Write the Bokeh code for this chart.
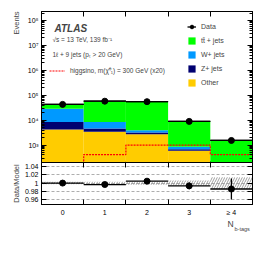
import numpy as np
from bokeh.plotting import figure
from bokeh.models import (ColumnDataSource, Range1d, FixedTicker, LinearAxis, LogAxis,
                          Legend, LegendItem, Label, Title, CustomJSTickFormatter)
from bokeh.layouts import column
from bokeh.embed import file_html
from bokeh.resources import INLINE

# ---------------- data ----------------
bins = [0, 1, 2, 3, 4]
bin_labels = ["0", "1", "2", "3", "≥ 4"]
other = [4200, 3400, 2700, 585, 120]
zjets = [4300, 1200, 500, 95, 15]
wjets = [20500, 3900, 700, 170, 40]
ttbar = [14000, 49500, 51100, 8150, 1380]
data = [43000, 57800, 55250, 8940, 1533]
signal = [100, 417, 1000, 1000, 417]
ratio_err = [0.002, 0.002, 0.002, 0.008, 0.025]
mc_unc = [0.003, 0.003, 0.004, 0.006, 0.014]

FONT = "Liberation Sans"
GREEN, BLUE, NAVY, ORANGE = "#00ff00", "#0099ff", "#000070", "#ffcc00"

x = np.array(bins, dtype=float)
left = x - 0.5
right = x + 0.5
comps = [("Other", other, ORANGE), ("Z+ jets", zjets, NAVY),
         ("W+ jets", wjets, BLUE), ("tt̄ + jets", ttbar, GREEN)]
total = np.sum([np.array(c[1], dtype=float) for c in comps], axis=0)
ratio = np.array(data) / total

# ---------------- main panel ----------------
p1 = figure(frame_width=211, frame_height=151, x_range=Range1d(-0.5, 4.5),
            y_range=Range1d(200, 2.3e8), y_axis_type="log",
            output_backend="svg", toolbar_location=None,
            min_border_left=41, min_border_right=5, min_border_top=11, min_border_bottom=0)
p1.grid.visible = False
p1.outline_line_color = "black"
p1.xaxis.visible = False

renderers = {}
bottom = np.ones(len(bins))
for name, vals, col in comps:
    top = bottom + np.array(vals, dtype=float)
    r = p1.quad(left=left, right=right, bottom=bottom, top=top, fill_color=col,
                line_alpha=0)
    renderers[name] = r
    bottom = top

p1.segment(x0=left, x1=right, y0=total, y1=total, line_color="black", line_width=1.3)

sig_x = np.append(left, right[-1])
sig_y = np.append(signal, signal[-1])
sig_r = p1.step(x=sig_x, y=sig_y, mode="after", line_color="red", line_dash="2 1",
                line_width=1.2)

dseg = p1.segment(x0=left, x1=right, y0=data, y1=data, line_color="black", line_width=1.3)
dcirc = p1.scatter(x=x, y=data, size=6, color="black")

# axes styling
log_ticks = [10.0 ** n for n in range(2, 9)]
log_minor = [k * 10.0 ** n for n in range(2, 9) for k in range(2, 10)]
log_fmt = CustomJSTickFormatter(code="""
const e = Math.round(Math.log10(tick));
const sup = {'0':'⁰','1':'¹','2':'²','3':'³','4':'⁴','5':'⁵','6':'⁶','7':'⁷','8':'⁸','9':'⁹','-':'⁻'};
return '10' + String(e).split('').map(c => sup[c]).join('');
""")

def style_axis(ax, labels=True, major=5, minor=3):
    ax.major_tick_in = major
    ax.major_tick_out = 0
    ax.minor_tick_in = minor
    ax.minor_tick_out = 0
    ax.axis_line_color = "black"
    ax.major_tick_line_color = "black"
    ax.minor_tick_line_color = "black"
    ax.major_label_text_font = FONT
    ax.major_label_text_color = "black"
    if labels:
        ax.major_label_text_font_size = "7px"
        ax.major_label_standoff = 3
    else:
        ax.major_label_text_font_size = "1px"
        ax.major_label_text_alpha = 0
        ax.major_label_standoff = 0

p1.yaxis.ticker = FixedTicker(ticks=log_ticks, minor_ticks=log_minor)
p1.yaxis.formatter = log_fmt
style_axis(p1.yaxis[0])

r_ax = LogAxis(ticker=FixedTicker(ticks=log_ticks, minor_ticks=log_minor))
style_axis(r_ax, labels=False)
p1.add_layout(r_ax, "right")

edges = list(np.append(left, right[-1]))
t_ax = LinearAxis(ticker=FixedTicker(ticks=bins, minor_ticks=edges))
style_axis(t_ax, labels=False, major=0, minor=5)
p1.add_layout(t_ax, "above")

legend = Legend(items=[
    LegendItem(label="Data", renderers=[dseg, dcirc]),
    LegendItem(label="tt̄ + jets", renderers=[renderers["tt̄ + jets"]]),
    LegendItem(label="W+ jets", renderers=[renderers["W+ jets"]]),
    LegendItem(label="Z+ jets", renderers=[renderers["Z+ jets"]]),
    LegendItem(label="Other", renderers=[renderers["Other"]]),
], location=(146, 75), glyph_width=9, glyph_height=9, label_height=9, spacing=5,
    padding=0, margin=0, label_standoff=5, border_line_alpha=0, background_fill_alpha=0,
    label_text_font=FONT, label_text_font_size="7px")
p1.add_layout(legend)

sig_leg = Legend(items=[LegendItem(label="higgsino, m(χ̃⁰₁) = 300 GeV (x20)", renderers=[sig_r])],
                 location=(8, 87), glyph_width=16, glyph_height=9, label_height=9,
                 padding=0, margin=0, label_standoff=5, border_line_alpha=0,
                 background_fill_alpha=0, label_text_font=FONT, label_text_font_size="6.5px")
p1.add_layout(sig_leg)

p1.add_layout(Label(x=13, y=134, x_units="screen", y_units="screen", text="ATLAS",
                    text_font=FONT, text_font_style="bold italic",
                    text_font_size="10px", text_baseline="alphabetic"))
p1.add_layout(Label(x=11, y=123, x_units="screen", y_units="screen",
                    text="√s = 13 TeV, 139 fb⁻¹", text_font=FONT,
                    text_font_size="6.5px", text_baseline="middle"))
p1.add_layout(Label(x=11, y=108, x_units="screen", y_units="screen",
                    text="1ℓ + 9 jets (pₜ > 20 GeV)", text_font=FONT,
                    text_font_size="6.5px", text_baseline="middle"))
p1.add_layout(Title(text="Events", align="right", text_font=FONT, text_font_size="7.5px",
                    text_font_style="normal", standoff=8, offset=0), "left")

# ---------------- ratio panel ----------------
p2 = figure(frame_width=211, frame_height=42, x_range=p1.x_range,
            y_range=Range1d(0.949, 1.049), output_backend="svg", toolbar_location=None,
            min_border_left=41, min_border_right=5, min_border_top=0, min_border_bottom=34)
p2.outline_line_color = "black"
p2.xgrid.visible = False
r_ticks = [0.96, 0.98, 1.0, 1.02, 1.04]
p2.yaxis.ticker = FixedTicker(ticks=r_ticks)
p2.yaxis.formatter = CustomJSTickFormatter(code="return Math.abs(tick-1)<1e-9 ? '1' : tick.toFixed(2);")
style_axis(p2.yaxis[0])
p2.ygrid.ticker = FixedTicker(ticks=r_ticks)
p2.ygrid.grid_line_color = "#999999"
p2.ygrid.grid_line_dash = "3 2"
p2.ygrid.grid_line_width = 0.8

p2.xaxis.ticker = FixedTicker(ticks=bins, minor_ticks=edges)
p2.xaxis.major_label_overrides = {b: l for b, l in zip(bins, bin_labels)}
style_axis(p2.xaxis[0], major=0, minor=5)
p2.xaxis.major_label_standoff = 4

r2 = LinearAxis(ticker=FixedTicker(ticks=r_ticks))
style_axis(r2, labels=False)
p2.add_layout(r2, "right")
t2 = LinearAxis(ticker=FixedTicker(ticks=bins, minor_ticks=edges))
style_axis(t2, labels=False, major=0, minor=5)
p2.add_layout(t2, "above")

unc = np.array(mc_unc)
p2.quad(left=left, right=right, bottom=1 - unc, top=1 + unc, fill_alpha=0, line_alpha=0,
        hatch_pattern="/", hatch_color="#888888", hatch_scale=5, hatch_weight=0.8)
p2.segment(x0=left, x1=right, y0=ratio, y1=ratio, line_color="black", line_width=1.3)
rerr = np.array(ratio_err)
p2.segment(x0=x, x1=x, y0=ratio - rerr, y1=ratio + rerr, line_color="black", line_width=1.3)
p2.scatter(x=x, y=ratio, size=6, color="black")

p2.add_layout(Title(text="Data/Model", align="center", text_font=FONT, text_font_size="7.5px",
                    text_font_style="normal", standoff=1), "left")
p2.add_layout(Title(text="N", align="left", offset=186, text_font=FONT, text_font_size="8.5px",
                    text_font_style="normal", standoff=-3), "below")
p2.add_layout(Title(text="b-tags", align="left", offset=193, text_font=FONT,
                    text_font_size="5.5px", text_font_style="normal", standoff=-8), "below")

layout = column(p1, p2)
open("out.html", "w").write(file_html(layout, INLINE))
